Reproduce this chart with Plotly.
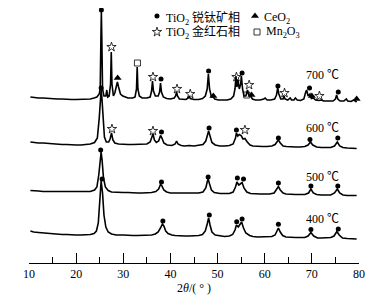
import plotly.graph_objects as go

# ---------------- data ----------------
samples = ["400 ℃", "500 ℃", "600 ℃", "700 ℃"]
offsets = [0, 43, 90, 134]

x400 = [10.3, 11, 12, 13, 14, 15, 16, 17, 18, 19, 20, 21, 22, 23, 23.8, 24.3, 24.7, 25.0, 25.3, 25.6, 25.9, 26.3, 26.8, 27.5, 28.5, 30, 31, 32, 33, 34, 35, 36, 36.8, 37.4, 37.9, 38.3, 38.6, 39.0, 39.5, 40.3, 41, 42, 43, 44, 45, 46, 46.8, 47.4, 47.8, 48.1, 48.4, 48.8, 49.5, 50.5, 51.5, 52.5, 53.2, 53.7, 54.0, 54.4, 54.7, 55.1, 55.5, 56, 56.8, 57.5, 58.5, 59.5, 60.5, 61.5, 62.2, 62.6, 62.9, 63.3, 63.8, 64.5, 65.5, 66.5, 67.5, 68.5, 69.2, 69.8, 70.4, 71.2, 72, 73, 74, 74.7, 75.3, 75.8, 76.5, 77.5, 78.5, 79.5]
i400 = [32, 31, 30.5, 30, 29.5, 29.5, 29, 28.5, 28.5, 28, 28, 28, 28, 28.5, 29.5, 32, 40, 60, 82, 70, 48, 36, 31, 29, 28, 28, 27.5, 27.5, 27.5, 27.5, 27.5, 28, 29, 31, 35, 39, 37, 32, 29.5, 28, 27.5, 27, 27, 27, 27, 27.5, 28.5, 32, 39, 45, 38, 31, 28, 27, 26.5, 27, 28.5, 33, 38, 36, 38, 41, 35, 30, 27.5, 26.5, 26, 26, 26, 26.5, 28, 32, 35, 31, 27.5, 26, 25.5, 25.5, 25.5, 25.5, 27, 30.5, 27, 25, 25, 25, 25.5, 27, 31.5, 28, 25, 24.5, 24.5, 24]

x500 = [10.3, 11, 12, 13, 14, 15, 16, 17, 18, 19, 20, 21, 22, 23, 23.9, 24.4, 24.8, 25.1, 25.3, 25.5, 25.8, 26.2, 26.8, 27.5, 28.5, 30, 31, 32, 33, 34, 35, 36, 36.9, 37.5, 37.9, 38.2, 38.6, 39.2, 40, 41, 42, 43, 44, 45, 46, 46.9, 47.5, 47.8, 48.0, 48.3, 48.7, 49.3, 50.5, 51.5, 52.5, 53.3, 53.8, 54.1, 54.5, 54.8, 55.2, 55.6, 56.2, 57, 58, 59, 60, 61, 62, 62.5, 62.9, 63.3, 63.9, 64.5, 65.5, 66.5, 67.5, 68.5, 69.3, 69.8, 70.3, 71, 72, 73, 74, 74.8, 75.4, 75.9, 76.6, 77.5, 78.5, 79.5]
i500 = [29.5, 29, 29, 28.5, 28.5, 28.5, 28.5, 28, 28, 28, 28, 28, 28, 28.5, 30, 33, 45, 62, 68, 60, 42, 33, 29.5, 28, 27.5, 27.5, 27.5, 27, 27, 27, 27, 27.5, 28.5, 31, 35.5, 34, 30, 28, 27, 27, 26.5, 26.5, 26.5, 26.5, 27, 28, 32, 38, 41, 36, 30, 27.5, 26.5, 26.5, 26.5, 28, 33, 38, 35, 36, 37.5, 32, 28, 26.5, 26, 26, 26, 26, 27, 30, 33.5, 30, 27, 26, 25.5, 25.5, 25.5, 25.5, 27, 31, 27, 25.5, 25, 25, 25, 27, 31, 27, 25, 24.5, 24.5, 24.5]

x600 = [10.3, 11, 12, 13, 14, 15, 16, 17, 18, 19, 20, 21, 22, 23, 23.9, 24.5, 24.9, 25.15, 25.3, 25.45, 25.7, 26.0, 26.4, 26.9, 27.2, 27.5, 27.8, 28.2, 29, 30, 31, 32, 33, 34, 35, 35.7, 36.1, 36.3, 36.6, 37.0, 37.5, 37.9, 38.2, 38.6, 39.3, 40.3, 41.0, 41.3, 41.6, 42.3, 43, 44, 45, 46, 46.9, 47.5, 47.9, 48.1, 48.4, 48.8, 49.5, 50.5, 51.5, 52.5, 53.3, 53.8, 54.0, 54.3, 54.6, 55.0, 55.4, 55.8, 56.3, 56.9, 57.5, 58.5, 59.5, 60.5, 61.5, 62.2, 62.6, 62.9, 63.3, 63.9, 64.6, 65.5, 66.5, 67.5, 68.5, 69.2, 69.7, 70.2, 71, 72, 73, 74, 74.8, 75.4, 75.9, 76.6, 77.5, 78.5, 79.5]
i600 = [31, 30.5, 30, 30, 29.5, 29, 29, 28.5, 28.5, 28, 28, 28, 28.5, 29, 30.5, 35, 55, 78, 83, 76, 52, 36, 31, 31, 34, 40, 33, 30, 29, 28.5, 28.5, 28.5, 28.5, 28.5, 29, 31, 38, 39, 33, 30.5, 32, 37.5, 35, 30, 28, 27.5, 29, 32, 29, 27.5, 27, 27.5, 27, 27.5, 28.5, 32, 39, 42, 37, 30.5, 28, 27, 27, 27.5, 29, 35, 40, 37, 38.5, 37.5, 34, 34.5, 31, 28, 27, 26.5, 26.5, 26.5, 27, 28.5, 31, 33, 30, 27, 26.5, 26, 26, 26, 26.5, 28, 31, 28, 26, 25.5, 25.5, 25.5, 27, 31, 27, 25.5, 25, 25, 24.5]

x700 = [10.3, 11, 12, 13, 14, 15, 16, 17, 18, 19, 20, 21, 22, 23, 23.8, 24.4, 24.9, 25.1, 25.25, 25.35, 25.45, 25.6, 25.9, 26.3, 26.5, 26.7, 27.0, 27.3, 27.45, 27.6, 27.9, 28.2, 28.5, 28.75, 29.0, 29.4, 29.9, 30.3, 31, 32, 32.5, 32.8, 32.95, 33.1, 33.4, 34, 35, 35.7, 36.0, 36.2, 36.4, 36.8, 37.4, 37.7, 37.9, 38.1, 38.5, 39.2, 40, 40.8, 41.1, 41.3, 41.5, 41.9, 42.5, 43.3, 43.8, 44.0, 44.2, 45, 46, 46.8, 47.4, 47.8, 48.05, 48.3, 48.7, 49.0, 49.4, 50.2, 51, 52, 52.8, 53.4, 53.7, 53.9, 54.1, 54.35, 54.6, 54.9, 55.05, 55.3, 55.6, 56.0, 56.35, 56.6, 57.0, 57.4, 58, 59, 59.8, 60.1, 60.5, 61.3, 62.1, 62.5, 62.75, 63.0, 63.4, 63.9, 64.1, 64.3, 64.9, 65.4, 65.7, 66.2, 66.5, 66.9, 67.6, 68.3, 68.7, 68.9, 69.2, 69.6, 69.9, 70.3, 70.8, 71.5, 72.0, 72.5, 73.5, 74.5, 75.0, 75.25, 75.5, 76.0, 76.8, 77.3, 77.6, 78.3, 78.9, 79.3, 79.5]
i700 = [32, 31.5, 31, 31, 30.5, 30, 30, 30, 29.5, 29.5, 29.5, 29.5, 30, 30, 31, 32, 35, 40, 90, 117, 90, 40, 33, 33, 39, 32, 33, 45, 77, 45, 33, 36, 42, 47, 42, 35, 33, 32, 31, 31, 32, 40, 62, 40, 33, 31, 31, 32, 38, 48, 38, 33, 33, 37, 46, 37, 32, 30.5, 30, 31, 33, 37, 33, 30, 29.5, 29.5, 31, 33, 30.5, 29.5, 29.5, 30.5, 33, 40, 55, 40, 32, 32.5, 30, 29, 29, 29, 30, 33, 40, 53, 42, 49, 40, 45, 53, 40, 33, 33, 39, 34, 33, 30, 29, 29, 30, 31, 29, 29, 30, 34, 41, 35, 30, 30, 33, 30, 29, 31, 29, 29, 31, 29, 28.5, 30, 37, 39, 33, 35, 30.5, 31, 29, 28.5, 29, 28, 28, 28, 30, 34, 30, 28, 28, 30, 28, 27.5, 29, 27.5, 27]

curves_x = [x400, x500, x600, x700]
curves_i = [i400, i500, i600, i700]

# phase markers: position (2θ), phase, marker height (same units as intensity)
mk400_x = [25.5, 38.4, 48.25, 54.06, 55.2, 62.9, 69.8, 75.6]
mk400_p = ["A", "A", "A", "A", "A", "A", "A", "A"]
mk400_y = [84, 42, 48, 41.3, 44, 38.7, 33.5, 34]

mk500_x = [25.2, 38.1, 48.0, 54.2, 55.5, 62.9, 69.8, 75.5]
mk500_p = ["A", "A", "A", "A", "A", "A", "A", "A"]
mk500_y = [70, 38, 43, 42, 41, 37, 34, 34]

mk600_x = [25.3, 27.6, 36.3, 38.1, 48.2, 54.0, 55.8, 62.9, 69.6, 75.5]
mk600_p = ["A", "R", "R", "A", "A", "A", "R", "A", "A", "A"]
mk600_y = [85, 44, 42, 41, 45, 43, 43, 35, 33.5, 35]

mk700_x = [25.35, 27.5, 28.8, 33.0, 36.3, 38.0, 41.4, 44.2, 48.1, 49.1, 54.0, 55.2, 56.2, 56.7, 57.2, 62.8, 64.2, 69.5, 70.0, 71.6, 75.6, 79.5]
mk700_p = ["A", "R", "C", "M", "R", "A", "R", "R", "A", "C", "R", "A", "M", "R", "C", "A", "R", "A", "C", "R", "A", "C"]
mk700_y = [119, 82, 51, 66, 52, 50, 40, 35, 58, 33, 52, 56, 34, 44, 34, 43, 36, 41, 33, 33, 37, 30]

markers_x = [mk400_x, mk500_x, mk600_x, mk700_x]
markers_p = [mk400_p, mk500_p, mk600_p, mk700_p]
markers_y = [mk400_y, mk500_y, mk600_y, mk700_y]

phase_names = {"A": "TiO<sub>2</sub> 锐钛矿相", "C": "CeO<sub>2</sub>",
               "R": "TiO<sub>2</sub> 金红石相", "M": "Mn<sub>2</sub>O<sub>3</sub>"}

x_ticks = [10, 20, 30, 40, 50, 60, 70, 80]

# ---------------- figure ----------------
# (page body has an 8px margin, so the figure is 8px smaller than the window)
FONT = "Liberation Serif, Times New Roman, Noto Sans CJK SC, serif"
sym = {"A": dict(symbol="circle", size=5),
       "C": dict(symbol="triangle-up", size=7),
       "R": dict(symbol="star-open", size=7, line=dict(width=0.8, color="black")),
       "M": dict(symbol="square-open", size=6, line=dict(width=0.8, color="black"))}

fig = go.Figure()
for xs, ys, off in zip(curves_x, curves_i, offsets):
    fig.add_trace(go.Scatter(x=xs, y=[v + off for v in ys], mode="lines",
                             line=dict(color="black", width=1.6), showlegend=False,
                             hoverinfo="skip", cliponaxis=False))

for mx, mp, my, off in zip(markers_x, markers_p, markers_y, offsets):
    for ph in ["A", "C", "R", "M"]:
        px = [a for a, p in zip(mx, mp) if p == ph]
        py = [b + off for b, p in zip(my, mp) if p == ph]
        if px:
            fig.add_trace(go.Scatter(x=px, y=py, mode="markers",
                                     marker=dict(color="black", **sym[ph]),
                                     showlegend=False, hoverinfo="skip",
                                     cliponaxis=False))

# temperature labels
label_y = [44, 86, 135, 188]
for s, ly in zip(samples, label_y):
    fig.add_annotation(x=72.2, y=ly, text=s, showarrow=False,
                       font=dict(family=FONT, size=12, color="black"))

# legend (markers + text): two rows
leg = [("A", 37.15, 1), ("C", 57.94, 1), ("R", 37.15, 2), ("M", 58.37, 2)]
row_text_y = {1: 255, 2: 231}
row_text_anchor = {1: "top", 2: "middle"}
row_mark_y = {1: 247, 2: 231}
for ph, lx, row in leg:
    fig.add_trace(go.Scatter(x=[lx], y=[row_mark_y[row]], mode="markers",
                             marker=dict(color="black", **sym[ph]),
                             showlegend=False, hoverinfo="skip", cliponaxis=False))
    fig.add_annotation(x=lx + 1.5, y=row_text_y[row], text=phase_names[ph],
                       showarrow=False, xanchor="left", yanchor=row_text_anchor[row],
                       font=dict(family=FONT, size=12, color="black"))

# axis title
fig.add_annotation(x=45, y=-0.098, xref="x", yref="paper", yanchor="middle",
                   text="2<i>θ</i>/( ° )", showarrow=False,
                   font=dict(family=FONT, size=12, color="black"))

fig.update_layout(
    width=378, height=294,
    margin=dict(l=21, r=27, t=0, b=39),
    paper_bgcolor="white", plot_bgcolor="white",
    xaxis=dict(range=[10, 80], tickvals=x_ticks, ticks="inside", ticklen=10,
               tickcolor="black", tickwidth=1, showline=True, linecolor="black",
               linewidth=1, showgrid=False, zeroline=False,
               minor=dict(dtick=5, tick0=10, ticks="inside", ticklen=6, tickcolor="black"),
               tickfont=dict(family=FONT, size=12, color="black")),
    yaxis=dict(range=[0, 255], visible=False, showgrid=False, zeroline=False),
)

fig.write_html("out.html")
